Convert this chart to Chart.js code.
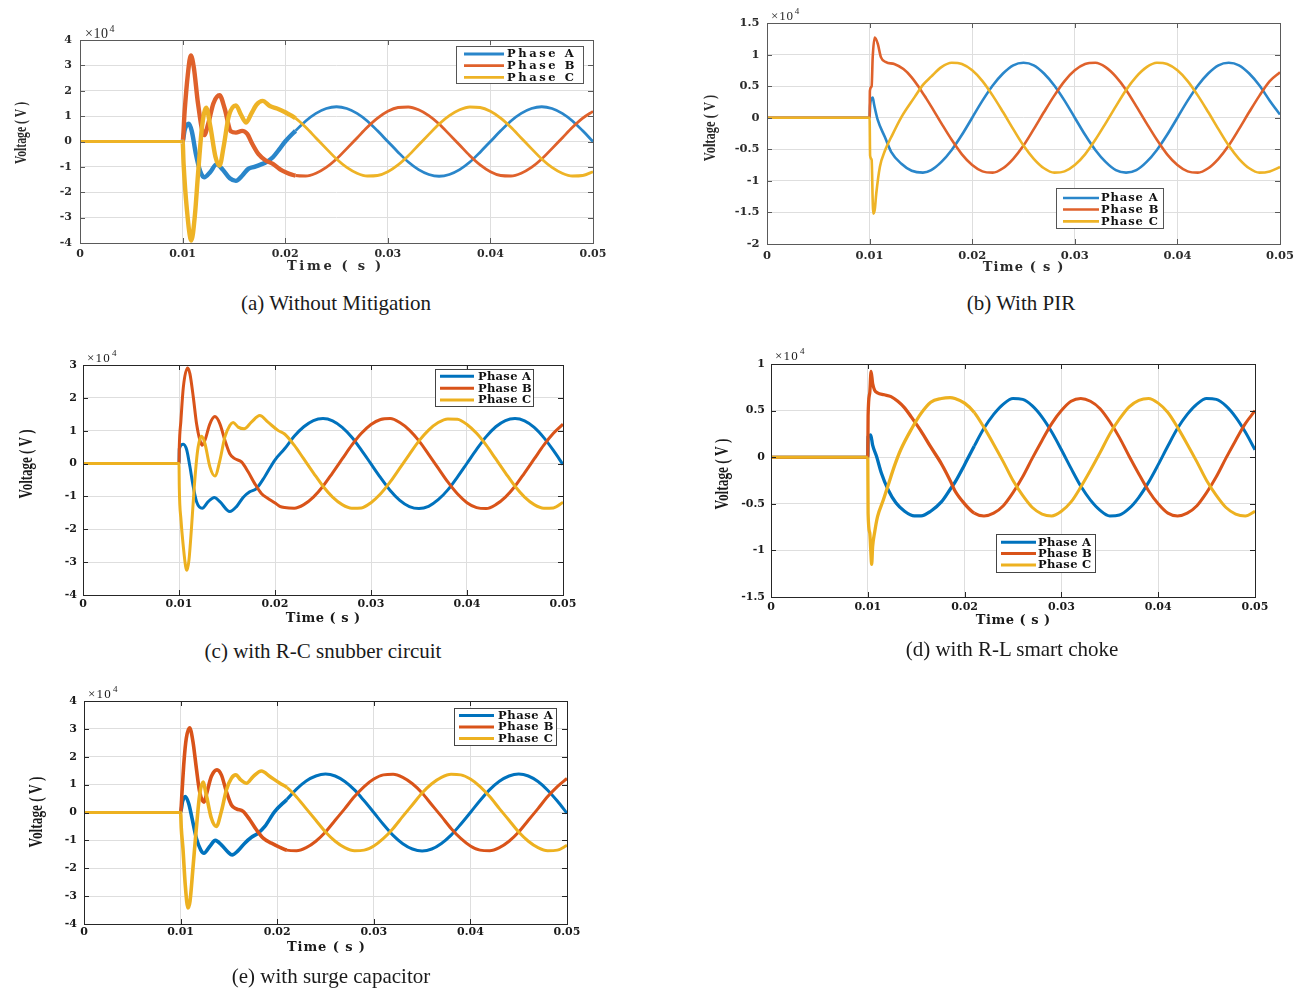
<!DOCTYPE html>
<html lang="en">
<head>
<meta charset="utf-8">
<title>Switching transient phase voltages</title>
<script src="https://cdn.jsdelivr.net/npm/chart.js@4.4.1/dist/chart.umd.min.js"></script>
<style>
    html, body { margin: 0; padding: 0; background: #fff; }
    body { position: relative; width: 1298px; height: 988px; overflow: hidden; font-family: "Liberation Serif", "Times New Roman", serif; }
    .panel { position: absolute; }
    .caption { position: absolute; font-size: 21px; color: #1a1a1a; white-space: nowrap; transform: translate(-50%, -50%); }
</style>
</head>
<body>
<canvas id="chartA" class="panel"></canvas>
<canvas id="chartB" class="panel"></canvas>
<canvas id="chartC" class="panel"></canvas>
<canvas id="chartD" class="panel"></canvas>
<canvas id="chartE" class="panel"></canvas>
<div class="caption" style="left:336px;top:303px;">(a) Without Mitigation</div>
<div class="caption" style="left:1021px;top:303px;">(b) With PIR</div>
<div class="caption" style="left:323px;top:651px;">(c) with R-C snubber circuit</div>
<div class="caption" style="left:1012px;top:649px;">(d) with R-L smart choke</div>
<div class="caption" style="left:331px;top:976px;">(e) with surge capacitor</div>
<script>
(function() {
    'use strict';

    // axis ticks
    var timeTicks = [0, 0.01, 0.02, 0.03, 0.04, 0.05];
    var timeTickLabels = ['0', '0.01', '0.02', '0.03', '0.04', '0.05'];
    var voltTicksA = [-4, -3, -2, -1, 0, 1, 2, 3, 4];
    var voltTicksB = [-2, -1.5, -1, -0.5, 0, 0.5, 1, 1.5];
    var voltTicksC = [-4, -3, -2, -1, 0, 1, 2, 3];
    var voltTicksD = [-1.5, -1, -0.5, 0, 0.5, 1];
    var voltTicksE = [-4, -3, -2, -1, 0, 1, 2, 3, 4];
    var phaseNames = ['Phase A', 'Phase B', 'Phase C'];

    // sample times of the steady-state part (s); each steady array ends at 0.05
    var steadyTime = [0.016, 0.017, 0.018, 0.019, 0.020, 0.021, 0.022, 0.023, 0.024, 0.025,
        0.026, 0.027, 0.028, 0.029, 0.030, 0.031, 0.032, 0.033, 0.034, 0.035,
        0.036, 0.037, 0.038, 0.039, 0.040, 0.041, 0.042, 0.043, 0.044, 0.045,
        0.046, 0.047, 0.048, 0.049, 0.050];

    // all voltages in units of 10^4 V, transients as [time, voltage]

    // (a) without mitigation
    var aTransA = [[0, 0], [0.01, 0], [0.0102, 0.45], [0.0106, 0.7], [0.0109, 0.4], [0.0113, -0.5], [0.0117, -1.15],
        [0.0121, -1.41], [0.0127, -1.2], [0.0133, -0.9], [0.0139, -1.1], [0.0146, -1.45], [0.0152, -1.55],
        [0.0158, -1.35], [0.0164, -1.08], [0.017, -1.0], [0.0176, -0.91], [0.0182, -0.8], [0.0188, -0.62],
        [0.0194, -0.32], [0.02, 0.0]];
    var aTransB = [[0, 0], [0.01, 0], [0.0102, 1.2], [0.0105, 2.6], [0.0108, 3.39], [0.0111, 2.9], [0.0115, 1.5],
        [0.0121, 0.25], [0.0125, 0.7], [0.013, 1.5], [0.0136, 1.82], [0.0141, 1.3], [0.0147, 0.4], [0.0152, 0.35],
        [0.0158, 0.42], [0.0163, 0.3], [0.0168, -0.1], [0.0174, -0.5], [0.0181, -0.75], [0.0188, -0.88],
        [0.0195, -1.1], [0.0201, -1.22]];
    var aTransC = [[0, 0], [0.01, 0], [0.0101, -0.9], [0.0104, -2.6], [0.01085, -3.9], [0.0112, -2.9], [0.0115, -1.3],
        [0.0119, 0.6], [0.0123, 1.33], [0.0127, 0.6], [0.0132, -0.6], [0.0136, -0.95], [0.014, -0.2], [0.0145, 1.0],
        [0.0152, 1.42], [0.0157, 1.05], [0.0162, 0.75], [0.0167, 1.1], [0.0172, 1.45], [0.0178, 1.6],
        [0.0185, 1.4], [0.0192, 1.3], [0.02, 1.15]];
    var aSteadyA = [0.42, 0.81, 1.11, 1.30, 1.37, 1.30, 1.11, 0.81, 0.42, 0, -0.42, -0.81, -1.11, -1.30, -1.37,
        -1.30, -1.11, -0.81, -0.42, 0, 0.42, 0.81, 1.11, 1.30, 1.37, 1.30, 1.11, 0.81, 0.42, 0];
    var aSteadyB = [-1.34, -1.36, -1.25, -1.02, -0.69, -0.28, 0.14, 0.56, 0.92, 1.19, 1.34, 1.36, 1.25, 1.02, 0.69,
        0.28, -0.14, -0.56, -0.92, -1.19, -1.34, -1.36, -1.25, -1.02, -0.69, -0.28, 0.14, 0.56, 0.92, 1.19];
    var aSteadyC = [0.92, 0.56, 0.14, -0.28, -0.69, -1.02, -1.25, -1.36, -1.34, -1.19, -0.92, -0.56, -0.14, 0.28, 0.69,
        1.02, 1.25, 1.36, 1.34, 1.19, 0.92, 0.56, 0.14, -0.28, -0.69, -1.02, -1.25, -1.36, -1.34, -1.19];

    // (b) with PIR
    var bTransA = [[0, 0], [0.01, 0], [0.01005, 0.2], [0.0102, 0.3], [0.0103, 0.32], [0.01045, 0.2], [0.0108, -0.04],
        [0.0115, -0.31], [0.0121, -0.54], [0.0131, -0.73], [0.0141, -0.84], [0.0152, -0.87]];
    var bTransB = [[0, 0], [0.01, 0], [0.01003, 0.43], [0.0102, 0.5], [0.0103, 0.95], [0.0105, 1.27], [0.0108, 1.17],
        [0.0111, 0.96], [0.0116, 0.88], [0.0124, 0.85], [0.0133, 0.77], [0.0141, 0.64], [0.0149, 0.46], [0.0155, 0.31]];
    var bTransC = [[0, 0], [0.01, 0], [0.01005, -0.6], [0.0102, -0.67], [0.0103, -1.3], [0.01035, -1.52], [0.0105, -1.46],
        [0.01065, -1.2], [0.011, -0.78], [0.0115, -0.52], [0.0121, -0.31], [0.0131, 0.01], [0.0144, 0.33], [0.0152, 0.52]];
    var bSteadyA = [-0.83, -0.70, -0.51, -0.27, 0, 0.27, 0.51, 0.70, 0.83, 0.87, 0.83, 0.70, 0.51, 0.27, 0, -0.27,
        -0.51, -0.70, -0.83, -0.87, -0.83, -0.70, -0.51, -0.27, 0, 0.27, 0.51, 0.70, 0.83, 0.87, 0.83, 0.70, 0.51, 0.27, 0.05];
    var bSteadyB = [0.18, -0.09, -0.35, -0.58, -0.75, -0.85, -0.87, -0.80, -0.65, -0.44, -0.18, 0.09, 0.35, 0.58, 0.75,
        0.85, 0.87, 0.80, 0.65, 0.44, 0.18, -0.09, -0.35, -0.58, -0.75, -0.85, -0.87, -0.80, -0.65, -0.44, -0.18, 0.09, 0.35, 0.58, 0.72];
    var bSteadyC = [0.65, 0.80, 0.87, 0.85, 0.75, 0.58, 0.35, 0.09, -0.18, -0.44, -0.65, -0.80, -0.87, -0.85, -0.75,
        -0.58, -0.35, -0.09, 0.18, 0.44, 0.65, 0.80, 0.87, 0.85, 0.75, 0.58, 0.35, 0.09, -0.18, -0.44, -0.65, -0.80, -0.87, -0.85, -0.78];

    // (c) with R-C snubber circuit
    var cTransA = [[0, 0], [0.01, 0], [0.01003, 0.45], [0.01045, 0.59], [0.0108, 0.42], [0.01114, -0.1], [0.01149, -0.71],
        [0.01183, -1.16], [0.01242, -1.36], [0.01304, -1.16], [0.01367, -1.03], [0.01426, -1.16], [0.01529, -1.46],
        [0.01599, -1.31], [0.01668, -1.03], [0.01737, -0.86], [0.01806, -0.76], [0.01893, -0.4], [0.01997, 0.1]];
    var cTransB = [[0, 0], [0.01, 0], [0.01003, 0.5], [0.0102, 1.31], [0.01045, 2.32], [0.0109, 2.91], [0.01114, 2.73],
        [0.01149, 2.02], [0.01183, 1.21], [0.01218, 0.71], [0.01242, 0.56], [0.0127, 0.71], [0.01322, 1.21],
        [0.01374, 1.43], [0.01426, 1.21], [0.01478, 0.71], [0.01529, 0.3], [0.01581, 0.15], [0.01651, 0.05],
        [0.0172, -0.25], [0.01789, -0.61], [0.01858, -0.91], [0.01927, -1.06], [0.01997, -1.19], [0.0205, -1.3]];
    var cTransC = [[0, 0], [0.01, 0], [0.01003, -0.71], [0.01021, -1.72], [0.01045, -2.53], [0.01069, -3.13],
        [0.01083, -3.25], [0.01104, -2.93], [0.01131, -1.92], [0.01159, -0.71], [0.01194, 0.4], [0.01235, 0.83],
        [0.0127, 0.61], [0.01322, -0.1], [0.01374, -0.38], [0.01426, 0.1], [0.01478, 0.81], [0.01529, 1.16],
        [0.01564, 1.25], [0.01616, 1.11], [0.01678, 1.06], [0.01754, 1.26], [0.01841, 1.46], [0.01927, 1.26], [0.02031, 1.01]];
    var cSteadyA = [0.45, 0.83, 1.12, 1.31, 1.37, 1.30, 1.10, 0.80, 0.41, -0.01, -0.43, -0.82, -1.12, -1.31, -1.37,
        -1.30, -1.10, -0.80, -0.41, 0.01, 0.43, 0.82, 1.12, 1.31, 1.37, 1.30, 1.10, 0.79, 0.40, -0.03];
    var cSteadyB = [-1.34, -1.36, -1.25, -1.02, -0.69, -0.28, 0.14, 0.56, 0.92, 1.19, 1.34, 1.37, 1.25, 1.02, 0.69,
        0.28, -0.14, -0.56, -0.92, -1.19, -1.34, -1.37, -1.25, -1.02, -0.69, -0.28, 0.14, 0.56, 0.92, 1.20];
    var cSteadyC = [0.90, 0.56, 0.14, -0.28, -0.69, -1.02, -1.25, -1.36, -1.35, -1.19, -0.92, -0.56, -0.14, 0.28, 0.69,
        1.02, 1.25, 1.36, 1.35, 1.19, 0.92, 0.56, 0.14, -0.28, -0.69, -1.02, -1.25, -1.36, -1.35, -1.18];

    // (d) with R-L smart choke
    var dTransA = [[0, 0], [0.01, 0], [0.01003, 0.22], [0.0103, 0.24], [0.0105, 0.13], [0.0109, 0.01], [0.0114, -0.17],
        [0.0121, -0.35], [0.0129, -0.49], [0.0138, -0.58], [0.0148, -0.63], [0.0155, -0.63], [0.0165, -0.58],
        [0.0176, -0.48], [0.0186, -0.33]];
    var dTransB = [[0, 0], [0.01, 0], [0.01003, 0.44], [0.0102, 0.69], [0.01034, 0.92], [0.0105, 0.79], [0.0107, 0.72],
        [0.011, 0.69], [0.0117, 0.67], [0.0124, 0.65], [0.0131, 0.6], [0.0138, 0.53], [0.0145, 0.43], [0.0155, 0.28],
        [0.0165, 0.11], [0.0176, -0.07], [0.0186, -0.27]];
    var dTransC = [[0, 0], [0.01, 0], [0.01003, -0.6], [0.0102, -0.81], [0.0103, -0.99], [0.0104, -1.15], [0.0105, -0.96],
        [0.0107, -0.81], [0.011, -0.64], [0.0116, -0.46], [0.0121, -0.3], [0.0128, -0.08], [0.0134, 0.08],
        [0.0145, 0.3], [0.0155, 0.47], [0.0165, 0.59], [0.0176, 0.63], [0.0185, 0.64]];
    var dSteadyA = [-0.27, -0.08, 0.12, 0.31, 0.46, 0.57, 0.63, 0.62, 0.55, 0.43, 0.27, 0.08, -0.12, -0.31, -0.46, -0.57,
        -0.63, -0.62, -0.55, -0.43, -0.27, -0.08, 0.12, 0.31, 0.46, 0.57, 0.63, 0.62, 0.55, 0.43, 0.27, 0.08];
    var dSteadyB = [-0.36, -0.50, -0.60, -0.63, -0.60, -0.52, -0.38, -0.21, -0.01, 0.18, 0.36, 0.50, 0.60, 0.63, 0.60,
        0.52, 0.38, 0.21, 0.01, -0.18, -0.36, -0.50, -0.60, -0.63, -0.60, -0.52, -0.38, -0.21, -0.01, 0.18, 0.36, 0.50];
    var dSteadyC = [0.63, 0.58, 0.48, 0.32, 0.14, -0.05, -0.25, -0.41, -0.54, -0.61, -0.63, -0.58, -0.48, -0.32, -0.14,
        0.05, 0.25, 0.41, 0.54, 0.61, 0.63, 0.58, 0.48, 0.32, 0.14, -0.05, -0.25, -0.41, -0.54, -0.61, -0.63, -0.58];

    // (e) with surge capacitor
    var eTransA = [[0, 0], [0.01, 0], [0.0102, 0.39], [0.01048, 0.57], [0.01083, 0.33], [0.01118, -0.2], [0.01163, -0.92],
        [0.01208, -1.34], [0.01242, -1.46], [0.01301, -1.22], [0.0136, -1.0], [0.01422, -1.16], [0.01491, -1.42],
        [0.01533, -1.52], [0.01595, -1.37], [0.01664, -1.1], [0.01734, -0.89], [0.01803, -0.74], [0.01872, -0.5],
        [0.01976, 0.04]];
    var eTransB = [[0, 0], [0.01, 0], [0.01015, 0.75], [0.01035, 1.83], [0.01059, 2.66], [0.01093, 3.04], [0.01128, 2.54],
        [0.01163, 1.59], [0.01197, 0.75], [0.01242, 0.37], [0.01266, 0.63], [0.01318, 1.29], [0.01377, 1.53],
        [0.01422, 1.35], [0.01474, 0.75], [0.01526, 0.27], [0.01578, 0.13], [0.01647, 0.04], [0.01716, -0.26],
        [0.01785, -0.62], [0.01855, -0.92], [0.01941, -1.1], [0.02028, -1.25]];
    var eTransC = [[0, 0], [0.01, 0], [0.01007, -0.56], [0.01024, -1.28], [0.01048, -2.59], [0.01076, -3.42],
        [0.01097, -3.19], [0.01128, -1.99], [0.01163, -0.56], [0.01197, 0.63], [0.01232, 1.09], [0.01266, 0.63],
        [0.01318, -0.2], [0.0137, -0.5], [0.01422, 0.04], [0.01474, 0.81], [0.01526, 1.23], [0.01571, 1.35],
        [0.01623, 1.17], [0.01682, 1.05], [0.01751, 1.29], [0.01837, 1.49], [0.01924, 1.29], [0.02028, 1.05]];
    var eSteadyA = [0.47, 0.84, 1.13, 1.31, 1.38, 1.31, 1.11, 0.81, 0.42, 0, -0.43, -0.82, -1.12, -1.31, -1.38,
        -1.31, -1.11, -0.81, -0.42, 0, 0.43, 0.82, 1.12, 1.31, 1.38, 1.31, 1.11, 0.80, 0.41, -0.03];
    var eSteadyB = [-1.35, -1.37, -1.26, -1.03, -0.70, -0.28, 0.14, 0.57, 0.93, 1.20, 1.35, 1.37, 1.26, 1.03, 0.70,
        0.28, -0.14, -0.57, -0.93, -1.20, -1.35, -1.37, -1.26, -1.03, -0.70, -0.28, 0.14, 0.57, 0.93, 1.22];
    var eSteadyC = [0.90, 0.56, 0.14, -0.28, -0.70, -1.03, -1.26, -1.37, -1.35, -1.20, -0.93, -0.57, -0.14, 0.28, 0.70,
        1.03, 1.26, 1.37, 1.35, 1.20, 0.93, 0.57, 0.14, -0.28, -0.70, -1.03, -1.26, -1.37, -1.35, -1.18];

    var softColors = ['#2a86ca', '#df612b', '#eeb326'];
    var matlabColors = ['#0072BD', '#D95319', '#EDB120'];

    var Y_AXIS_W = 75, TOP_PAD = 25, RIGHT_PAD = 22, X_AXIS_H = 40;
    var SERIF = '"Liberation Serif", "Times New Roman", serif';
    var WIDE = '"DejaVu Serif", serif';

    var panels = [
        {
            id: 'chartA', box: [80, 40, 593, 243], yMin: -4, yMax: 4, yTicks: voltTicksA,
            trans: [aTransA, aTransB, aTransC], steady: [aSteadyA, aSteadyB, aSteadyC],
            colors: softColors, lineWidth: 2.8, burstWidth: 4.4, frame: '#5a5a5a', text: '#2b2b2b',
            tickSize: 11, xLabelPad: 5, yLabelPad: 8,
            xTitle: { x: 334, y: 267, size: 13, spacing: 2.7 },
            yTitle: { x: 22, y: 133, size: 16, squeeze: 0.73 },
            exp: { x: 85, y: 34, size: 14, spacing: 0.5 },
            legend: { box: [456, 46, 583, 83], rows: [54, 65.6, 77.3], line: [464, 504], text: 507, size: 11.5, spacing: 2.6, edge: '#555' }
        },
        {
            id: 'chartB', box: [767, 23, 1280, 244], yMin: -2, yMax: 1.5, yTicks: voltTicksB,
            trans: [bTransA, bTransB, bTransC], steady: [bSteadyA, bSteadyB, bSteadyC],
            colors: softColors, lineWidth: 2.6, burstWidth: 2.6, frame: '#5a5a5a', text: '#2b2b2b',
            tickSize: 11.5, xLabelPad: 5, yLabelPad: 7.5,
            xTitle: { x: 1023, y: 268, size: 13, spacing: 1.2 },
            yTitle: { x: 711, y: 128, size: 16, squeeze: 0.78 },
            exp: { x: 771, y: 17, size: 13, spacing: 0.8 },
            legend: { box: [1056, 188, 1163, 228], rows: [198, 209.5, 221.4], line: [1063, 1099], text: 1101, size: 11.5, spacing: 0.9, edge: '#555' }
        },
        {
            id: 'chartC', box: [83, 365, 563, 595], yMin: -4, yMax: 3, yTicks: voltTicksC,
            trans: [cTransA, cTransB, cTransC], steady: [cSteadyA, cSteadyB, cSteadyC],
            colors: matlabColors, lineWidth: 3, burstWidth: 3, frame: '#262626', text: '#1a1a1a',
            tickSize: 11, xLabelPad: 3, yLabelPad: 6,
            xTitle: { x: 323, y: 619, size: 13, spacing: 0.5 },
            yTitle: { x: 27, y: 464, size: 18, squeeze: 0.72 },
            exp: { x: 87, y: 359, size: 13, spacing: 1.2 },
            legend: { box: [435, 369, 533, 406], rows: [376.3, 388.3, 399.9], line: [440, 474], text: 478, size: 11.5, spacing: 0.3, edge: '#444' }
        },
        {
            id: 'chartD', box: [771, 364, 1255, 597], yMin: -1.5, yMax: 1, yTicks: voltTicksD,
            trans: [dTransA, dTransB, dTransC], steady: [dSteadyA, dSteadyB, dSteadyC],
            colors: matlabColors, lineWidth: 3, burstWidth: 3.3, frame: '#262626', text: '#1a1a1a',
            tickSize: 11, xLabelPad: 4, yLabelPad: 6,
            xTitle: { x: 1013, y: 621, size: 13, spacing: 0.5 },
            yTitle: { x: 723, y: 474, size: 18, squeeze: 0.74 },
            exp: { x: 775, y: 357, size: 13, spacing: 1.2 },
            legend: { box: [996, 534, 1095, 572], rows: [542.3, 553.6, 564.9], line: [1001, 1036], text: 1038, size: 11.5, spacing: 0.3, edge: '#444' }
        },
        {
            id: 'chartE', box: [84, 701, 567, 924], yMin: -4, yMax: 4, yTicks: voltTicksE,
            trans: [eTransA, eTransB, eTransC], steady: [eSteadyA, eSteadyB, eSteadyC],
            colors: matlabColors, lineWidth: 3, burstWidth: 3.6, frame: '#262626', text: '#1a1a1a',
            tickSize: 11, xLabelPad: 2, yLabelPad: 7,
            xTitle: { x: 326, y: 948, size: 13, spacing: 0.9 },
            yTitle: { x: 37, y: 812, size: 18, squeeze: 0.74 },
            exp: { x: 88, y: 695, size: 13, spacing: 1.2 },
            legend: { box: [454, 708, 556, 745], rows: [715.6, 727, 738.6], line: [459, 494], text: 498, size: 11.5, spacing: 0.6, edge: '#444' }
        }
    ];

    function buildSeries(trans, steady) {
        var pts = trans.map(function(p) { return { x: p[0], y: p[1] }; });
        var times = steadyTime.slice(steadyTime.length - steady.length);
        steady.forEach(function(v, i) { pts.push({ x: times[i], y: v }); });
        return pts;
    }

    // frame, inward ticks, exponent, axis titles and legend drawn over the plot
    function makeDecor(p) {
        var ox = p.box[0] - Y_AXIS_W;
        var oy = p.box[1] - TOP_PAD;
        return {
            id: 'decor',
            afterDraw: function(chart) {
                var ctx = chart.ctx;
                var ca = chart.chartArea;
                var xs = chart.scales.x, ys = chart.scales.y;

                ctx.save();
                ctx.strokeStyle = p.frame;
                ctx.lineWidth = 1;
                ctx.beginPath();
                timeTicks.forEach(function(v) {
                    var x = Math.round(xs.getPixelForValue(v)) + 0.5;
                    ctx.moveTo(x, ca.bottom); ctx.lineTo(x, ca.bottom - 5);
                    ctx.moveTo(x, ca.top); ctx.lineTo(x, ca.top + 5);
                });
                p.yTicks.forEach(function(v) {
                    var y = Math.round(ys.getPixelForValue(v)) + 0.5;
                    ctx.moveTo(ca.left, y); ctx.lineTo(ca.left + 5, y);
                    ctx.moveTo(ca.right, y); ctx.lineTo(ca.right - 5, y);
                });
                ctx.stroke();
                ctx.strokeRect(ca.left + 0.5, ca.top + 0.5, ca.right - ca.left, ca.bottom - ca.top);

                // x10^4 exponent
                ctx.fillStyle = p.text;
                ctx.textBaseline = 'middle';
                ctx.textAlign = 'left';
                ctx.letterSpacing = p.exp.spacing + 'px';
                ctx.font = p.exp.size + 'px ' + SERIF;
                ctx.fillText('\u00d710', p.exp.x - ox, p.exp.y - oy);
                var w = ctx.measureText('\u00d710').width;
                ctx.font = Math.round(p.exp.size * 0.7) + 'px ' + SERIF;
                ctx.fillText('4', p.exp.x - ox + w + 1, p.exp.y - oy - 5);

                // axis titles
                ctx.letterSpacing = p.xTitle.spacing + 'px';
                ctx.font = 'bold ' + p.xTitle.size + 'px ' + WIDE;
                ctx.textAlign = 'center';
                ctx.fillText('Time ( s )', p.xTitle.x - ox + p.xTitle.spacing / 2, p.xTitle.y - oy);

                ctx.save();
                ctx.letterSpacing = '0px';
                ctx.font = 'bold ' + p.yTitle.size + 'px ' + SERIF;
                ctx.translate(p.yTitle.x - ox, p.yTitle.y - oy);
                ctx.rotate(-Math.PI / 2);
                ctx.scale(p.yTitle.squeeze, 1);
                ctx.fillText('Voltage ( V )', 0, 0);
                ctx.restore();

                // legend
                var L = p.legend;
                ctx.fillStyle = '#ffffff';
                ctx.fillRect(L.box[0] - ox, L.box[1] - oy, L.box[2] - L.box[0], L.box[3] - L.box[1]);
                ctx.strokeStyle = L.edge;
                ctx.lineWidth = 1;
                ctx.strokeRect(L.box[0] - ox + 0.5, L.box[1] - oy + 0.5, L.box[2] - L.box[0], L.box[3] - L.box[1]);
                ctx.letterSpacing = L.spacing + 'px';
                ctx.font = 'bold ' + L.size + 'px ' + WIDE;
                ctx.textAlign = 'left';
                chart.data.datasets.forEach(function(ds, i) {
                    var y = L.rows[i] - oy;
                    ctx.strokeStyle = ds.borderColor;
                    ctx.lineWidth = p.lineWidth;
                    ctx.beginPath();
                    ctx.moveTo(L.line[0] - ox, y);
                    ctx.lineTo(L.line[1] - ox, y);
                    ctx.stroke();
                    ctx.fillStyle = '#111';
                    ctx.fillText(ds.label, L.text - ox, y + 0.5);
                });
                ctx.restore();
                ctx.letterSpacing = '0px';
            }
        };
    }

    panels.forEach(function(p) {
        var canvas = document.getElementById(p.id);
        var plotW = p.box[2] - p.box[0];
        var plotH = p.box[3] - p.box[1];
        canvas.width = plotW + Y_AXIS_W + RIGHT_PAD;
        canvas.height = plotH + TOP_PAD + X_AXIS_H;
        canvas.style.left = (p.box[0] - Y_AXIS_W) + 'px';
        canvas.style.top = (p.box[1] - TOP_PAD) + 'px';

        var tickFont = { family: WIDE, size: p.tickSize, weight: 'bold' };

        new Chart(canvas.getContext('2d'), {
            type: 'line',
            data: {
                datasets: [0, 1, 2].map(function(i) {
                    return {
                        label: phaseNames[i],
                        data: buildSeries(p.trans[i], p.steady[i]),
                        borderColor: p.colors[i],
                        backgroundColor: p.colors[i],
                        borderWidth: p.lineWidth,
                        pointRadius: 0,
                        fill: false,
                        cubicInterpolationMode: 'monotone',
                        order: 3 - i,
                        segment: {
                            // the switching burst looks thicker (high-frequency ripple)
                            borderWidth: function(ctx) {
                                var t = ctx.p0.parsed.x;
                                return (t >= 0.01 && t < 0.0205) ? p.burstWidth : p.lineWidth;
                            }
                        }
                    };
                })
            },
            options: {
                responsive: false,
                animation: false,
                devicePixelRatio: 1,
                events: [],
                layout: { padding: { left: 0, top: TOP_PAD, right: RIGHT_PAD, bottom: 0 } },
                plugins: {
                    legend: { display: false },
                    tooltip: { enabled: false }
                },
                scales: {
                    x: {
                        type: 'linear',
                        min: 0,
                        max: 0.05,
                        afterBuildTicks: function(scale) {
                            scale.ticks = timeTicks.map(function(v) { return { value: v }; });
                        },
                        afterFit: function(scale) { scale.height = X_AXIS_H; },
                        grid: { color: '#dedede', drawTicks: false },
                        border: { display: false },
                        ticks: {
                            autoSkip: false,
                            maxRotation: 0,
                            padding: p.xLabelPad,
                            color: p.text,
                            font: tickFont,
                            callback: function(value, index) { return timeTickLabels[index]; }
                        }
                    },
                    y: {
                        min: p.yMin,
                        max: p.yMax,
                        afterBuildTicks: function(scale) {
                            scale.ticks = p.yTicks.map(function(v) { return { value: v }; });
                        },
                        afterFit: function(scale) { scale.width = Y_AXIS_W; },
                        grid: { color: '#dedede', drawTicks: false },
                        border: { display: false },
                        ticks: {
                            padding: p.yLabelPad,
                            color: p.text,
                            font: tickFont,
                            callback: function(value) { return String(value); }
                        }
                    }
                }
            },
            plugins: [makeDecor(p)]
        });
    });
})();
</script>
</body>
</html>
